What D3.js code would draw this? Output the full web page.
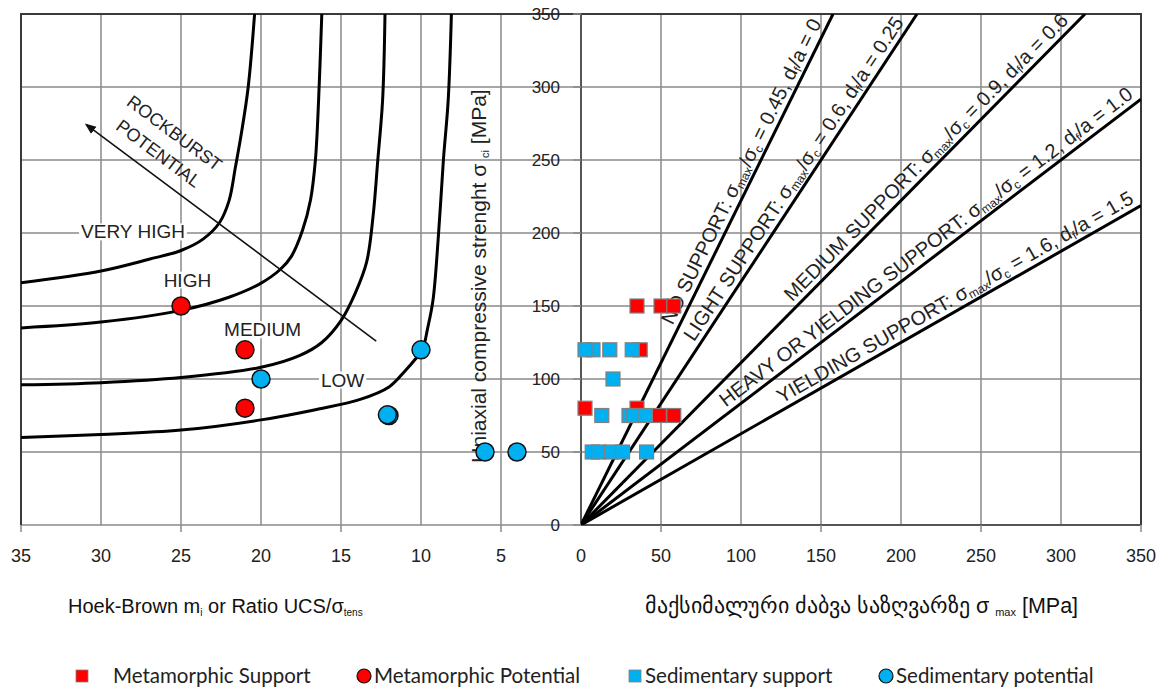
<!DOCTYPE html>
<html>
<head>
<meta charset="utf-8">
<script src="https://cdn.jsdelivr.net/npm/d3@7"></script>
<style>
body { margin: 0; background: #fff; }
svg { display: block; font-family: "Liberation Sans", Arial, sans-serif; }
</style>
</head>
<body>
<svg id="chart" width="1169" height="688"></svg>
<script>
// ---- data ----
const leftTicks = [35, 30, 25, 20, 15, 10, 5, 0];
const rightTicks = [50, 100, 150, 200, 250, 300, 350];
const yTicks = [0, 50, 100, 150, 200, 250, 300, 350];

// rockburst potential boundaries [mi, UCS]
const curveVeryHigh = [[35,166],[30,174],[27,182],[25,188],[23.6,196],[22.6,207],[22,222],[21.6,245],[21.2,270],[20.8,300],[20.4,350]];
const curveHigh = [[35,135],[30,139],[25,147],[22,156],[20.1,165],[18.8,175],[18.1,184],[17.4,202],[16.9,223],[16.6,250],[16.4,291],[16.2,350]];
const curveMedium = [[35,96],[30,97.5],[25,101],[20,108],[17.6,116],[16.2,125],[15,140],[14.1,159],[13.4,180],[13,211],[12.7,250],[12.4,291],[12.25,350]];
const curveLow = [[35,60],[30,62],[25,65],[20,72],[16.6,79],[13.8,86],[12,94.5],[11,105.5],[10.4,113],[9.9,120.5],[9.6,134],[9.25,154],[8.9,200],[8.6,250],[8.3,291],[8.1,350]];
const zoneNames = ['VERY HIGH', 'HIGH', 'MEDIUM', 'LOW'];

// support categories: sigma_max / sigma_c
const supportRatios = [0.45, 0.6, 0.9, 1.2, 1.6];
const supportNames = ['NO SUPPORT', 'LIGHT SUPPORT', 'MEDIUM SUPPORT', 'HEAVY OR YIELDING SUPPORT', 'YIELDING SUPPORT'];
const depthRatios = ['0', '0.25', '0.6', '1.0', '1.5'];

// points
const metamorphicPotential = [[25,150],[21,120],[21,80]];
const sedimentaryPotential = [[20,100],[10,120],[12,75],[12.1,75.5],[6,50],[4,50]];
const metamorphicSupport = [[35,150],[50,150],[58,150],[37,120],[2.5,80],[35,80],[49,75],[58,75]];
const sedimentarySupport = [[7.5,120],[2.5,120],[18,120],[32,120],[20,100],[13,75],[30,75],[33,75],[40,75],[7,50],[11,50],[19,50],[26,50],[41,50]];

const legendNames = ['Metamorphic Support', 'Metamorphic Potential', 'Sedimentary support', 'Sedimentary potential'];

const RED = '#ff0000', BLUE = '#00b0f0';

const svg = d3.select('#chart');
svg.append('rect').attr('width', 1169).attr('height', 688).attr('fill', '#fff');

const xL = d3.scaleLinear().domain([35, 0]).range([21, 581]);
const xR = d3.scaleLinear().domain([0, 350]).range([581, 1141]);
const y = d3.scaleLinear().domain([0, 350]).range([525, 14]);

const defs = svg.append('defs');
defs.append('clipPath').attr('id', 'clipL')
    .append('rect').attr('x', xL(35)).attr('y', y(350)).attr('width', xL(0) - xL(35)).attr('height', y(0) - y(350));
defs.append('clipPath').attr('id', 'clipR')
    .append('rect').attr('x', xR(0)).attr('y', y(350)).attr('width', xR(350) - xR(0)).attr('height', y(0) - y(350));
defs.append('marker').attr('id', 'arrow')
    .attr('viewBox', '0 0 10 10').attr('refX', 8).attr('refY', 5)
    .attr('markerWidth', 7).attr('markerHeight', 7).attr('orient', 'auto-start-reverse')
    .append('path').attr('d', 'M0,1 L10,5 L0,9 Z').attr('fill', '#111');

// ---- grid ----
const grid = svg.append('g').attr('stroke', '#8a8a8a').attr('stroke-width', 1.5);
grid.selectAll('.vl').data(leftTicks.filter(d => d > 0 && d < 35)).join('line')
    .attr('x1', d => xL(d)).attr('x2', d => xL(d)).attr('y1', y(0)).attr('y2', y(350));
grid.selectAll('.vr').data(rightTicks.filter(d => d < 350)).join('line')
    .attr('x1', d => xR(d)).attr('x2', d => xR(d)).attr('y1', y(0)).attr('y2', y(350));
grid.selectAll('.h').data(yTicks.filter(d => d > 0 && d < 350)).join('line')
    .attr('x1', xL(35)).attr('x2', xR(350)).attr('y1', d => y(d)).attr('y2', d => y(d));
grid.append('line').attr('x1', xL(35)).attr('x2', xL(0)).attr('y1', y(0)).attr('y2', y(0));

// frame
const frame = svg.append('g').attr('stroke', '#3a3a3a').attr('stroke-width', 2).attr('fill', 'none');
frame.append('path').attr('d', `M${xL(35)},${y(0)} V${y(350)} H${xR(350)} V${y(0)}`);
frame.append('line').attr('x1', xR(0)).attr('x2', xR(350)).attr('y1', y(0)).attr('y2', y(0)).attr('stroke', '#555');
frame.append('line').attr('x1', xR(0)).attr('x2', xR(0)).attr('y1', y(0)).attr('y2', y(350)).attr('stroke', '#555');

// y axis ticks + labels (shared, in the middle)
svg.append('g').selectAll('line').data(yTicks).join('line')
    .attr('x1', xR(0) - 8).attr('x2', xR(0)).attr('y1', d => y(d)).attr('y2', d => y(d))
    .attr('stroke', '#8a8a8a').attr('stroke-width', 1.5);
svg.append('g').selectAll('text').data(yTicks).join('text')
    .attr('x', xR(0) - 21).attr('y', d => y(d)).attr('dy', '0.35em')
    .attr('text-anchor', 'end').attr('font-size', 17).attr('fill', '#222')
    .text(d => d);

// bottom ticks
const bt = svg.append('g').attr('stroke', '#8a8a8a').attr('stroke-width', 1.5);
bt.selectAll('.l').data([35, 25, 15, 5]).join('line')
    .attr('x1', d => xL(d)).attr('x2', d => xL(d)).attr('y1', y(0)).attr('y2', y(0) + 7);
bt.selectAll('.r').data([50, 150, 250, 350]).join('line')
    .attr('x1', d => xR(d)).attr('x2', d => xR(d)).attr('y1', y(0)).attr('y2', y(0) + 7);

const tickFont = 18;
svg.append('g').selectAll('text').data(leftTicks).join('text')
    .attr('x', d => xL(d)).attr('y', 562).attr('text-anchor', 'middle')
    .attr('font-size', tickFont).attr('fill', '#222').text(d => d);
svg.append('g').selectAll('text').data(rightTicks).join('text')
    .attr('x', d => xR(d)).attr('y', 562).attr('text-anchor', 'middle')
    .attr('font-size', tickFont).attr('fill', '#222').text(d => d);

// y title sits under the markers
const yTitle = svg.append('text')
    .attr('transform', `translate(486,276) rotate(-90)`)
    .attr('text-anchor', 'middle').attr('font-size', 21).attr('fill', '#222');
yTitle.append('tspan').text('Uniaxial compressive strenght σ ');
yTitle.append('tspan').attr('font-size', 11).attr('dy', 3).text('ci');
yTitle.append('tspan').attr('dy', -3).text(' [MPa]');

// ---- left panel: rockburst curves ----
const lineL = d3.line().x(d => xL(d[0])).y(d => y(d[1])).curve(d3.curveCatmullRom.alpha(0.5));
const gL = svg.append('g').attr('clip-path', 'url(#clipL)');
[curveVeryHigh, curveHigh, curveMedium, curveLow].forEach(c => {
    gL.append('path').datum(c).attr('d', lineL)
        .attr('fill', 'none').attr('stroke', '#000').attr('stroke-width', 3);
});

// zone labels with white background
const zoneAt = [[28, 201], [24.6, 168], [19.9, 134], [14.9, 99.5]];
zoneNames.forEach((name, i) => {
    const g = svg.append('g');
    const t = g.append('text')
        .attr('x', xL(zoneAt[i][0])).attr('y', y(zoneAt[i][1])).attr('dy', '0.36em')
        .attr('text-anchor', 'middle').attr('font-size', 19).attr('fill', '#222')
        .text(name);
    const bb = t.node().getBBox();
    g.insert('rect', 'text').attr('x', bb.x - 2).attr('y', bb.y + 2).attr('width', bb.width + 4).attr('height', bb.height - 4)
        .attr('fill', '#fff');
});

// rockburst arrow
const arrowFrom = [12.8, 126], arrowTo = [30.9, 274];
svg.append('line')
    .attr('x1', xL(arrowFrom[0])).attr('y1', y(arrowFrom[1]))
    .attr('x2', xL(arrowTo[0])).attr('y2', y(arrowTo[1]))
    .attr('stroke', '#111').attr('stroke-width', 1.6).attr('marker-end', 'url(#arrow)');
const arrowAngle = Math.atan2(y(arrowFrom[1]) - y(arrowTo[1]), xL(arrowFrom[0]) - xL(arrowTo[0])) * 180 / Math.PI;
[['ROCKBURST', [25.4, 268.5]], ['POTENTIAL', [26.4, 254.5]]].forEach(([txt, p]) => {
    svg.append('text')
        .attr('transform', `translate(${xL(p[0])},${y(p[1])}) rotate(${arrowAngle})`)
        .attr('text-anchor', 'middle').attr('dy', '0.35em')
        .attr('font-size', 18).attr('fill', '#222').text(txt);
});

// ---- right panel: support lines ----
const gR = svg.append('g').attr('clip-path', 'url(#clipR)');
supportRatios.forEach((r, i) => {
    const xe = Math.min(350, 350 * r), ye = xe / r;
    gR.append('line')
        .attr('x1', xR(0)).attr('y1', y(0)).attr('x2', xR(xe)).attr('y2', y(ye))
        .attr('stroke', '#000').attr('stroke-width', 3);
});
supportRatios.forEach((r, i) => {
    const xe = r < 1 ? r * 342 : 348, ye = xe / r;
    const px = xR(xe), py = y(ye);
    const ang = Math.atan2(py - y(0), px - xR(0)) * 180 / Math.PI;
    const t = svg.append('text')
        .attr('transform', `translate(${px},${py}) rotate(${ang})`)
        .attr('y', -6).attr('text-anchor', 'end')
        .attr('font-size', 20).attr('fill', '#222');
    t.append('tspan').text(supportNames[i] + ': σ');
    t.append('tspan').attr('font-size', 12).attr('dy', 3).text('max');
    t.append('tspan').attr('dy', -3).text('/σ');
    t.append('tspan').attr('font-size', 12).attr('dy', 3).text('c');
    t.append('tspan').attr('dy', -3).text(` = ${r}, d`);
    t.append('tspan').attr('font-size', 12).attr('dy', 3).text('f');
    t.append('tspan').attr('dy', -3).text(`/a = ${depthRatios[i]}`);
});

// ---- markers ----
const sq = 14;
svg.append('g').selectAll('rect').data(metamorphicSupport).join('rect')
    .attr('x', d => xR(d[0]) - sq / 2).attr('y', d => y(d[1]) - sq / 2)
    .attr('width', sq).attr('height', sq)
    .attr('fill', RED).attr('stroke', '#808080').attr('stroke-width', 1.2);
svg.append('g').selectAll('rect').data(sedimentarySupport).join('rect')
    .attr('x', d => xR(d[0]) - sq / 2).attr('y', d => y(d[1]) - sq / 2)
    .attr('width', sq).attr('height', sq)
    .attr('fill', BLUE).attr('stroke', '#808080').attr('stroke-width', 1.2);
svg.append('g').selectAll('circle').data(metamorphicPotential).join('circle')
    .attr('cx', d => xL(d[0])).attr('cy', d => y(d[1])).attr('r', 9)
    .attr('fill', RED).attr('stroke', '#111').attr('stroke-width', 1.5);
svg.append('g').selectAll('circle').data(sedimentaryPotential).join('circle')
    .attr('cx', d => xL(d[0])).attr('cy', d => y(d[1])).attr('r', 9)
    .attr('fill', BLUE).attr('stroke', '#111').attr('stroke-width', 1.5);

// ---- x titles ----
const xTitleL = svg.append('text').attr('x', 68).attr('y', 613).attr('font-size', 20).attr('fill', '#111');
xTitleL.append('tspan').text('Hoek-Brown m');
xTitleL.append('tspan').attr('font-size', 10).attr('dy', 3).text('i');
xTitleL.append('tspan').attr('dy', -3).text(' or Ratio UCS/σ');
xTitleL.append('tspan').attr('font-size', 10).attr('dy', 3).text('tens');

const xTitleR = svg.append('text').attr('x', 645).attr('y', 613).attr('font-size', 21.5).attr('fill', '#111');
xTitleR.append('tspan').text('მაქსიმალური ძაბვა საზღვარზე σ ');
xTitleR.append('tspan').attr('font-size', 11).attr('dy', 3).text('max');
xTitleR.append('tspan').attr('dy', -3).text(' [MPa]');

// ---- legend ----
const legendX = [82, 364, 635, 886];
const lg = svg.append('g').attr('font-family', 'Lato, "Open Sans", sans-serif');
legendNames.forEach((name, i) => {
    const cx = legendX[i], cy = 676;
    const color = i < 2 ? RED : BLUE;
    if (i % 2 === 0) {
        lg.append('rect').attr('x', cx - 6).attr('y', cy - 6).attr('width', 12).attr('height', 12)
            .attr('fill', color).attr('stroke', '#808080').attr('stroke-width', 0.8);
    } else {
        lg.append('circle').attr('cx', cx).attr('cy', cy).attr('r', 7)
            .attr('fill', color).attr('stroke', '#111').attr('stroke-width', 1.2);
    }
    lg.append('text').attr('x', cx + (i === 0 ? 31 : 10)).attr('y', cy).attr('dy', '0.35em')
        .attr('font-size', 20.5).attr('fill', '#222').text(name);
});
</script>
</body>
</html>
